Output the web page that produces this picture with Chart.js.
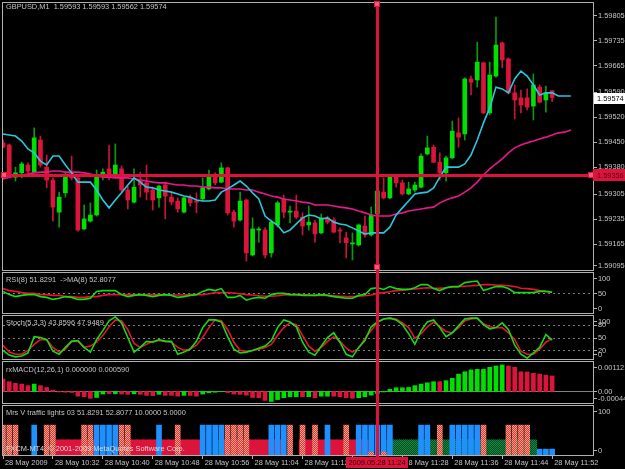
<!DOCTYPE html>
<html>
<head>
<meta charset="utf-8">
<title>GBPUSD,M1</title>
<script src="https://cdn.jsdelivr.net/npm/chart.js@4.4.1/dist/chart.umd.min.js"></script>
<style>
  html, body { margin: 0; padding: 0; background: #000; }
  body { position: relative; width: 625px; height: 469px; overflow: hidden; }
  canvas { position: absolute; left: 0; display: block; }
</style>
</head>
<body>
<canvas id="mainChart" width="625" height="272" style="top:0px;width:625px;height:272px"></canvas>
<canvas id="rsiChart" width="625" height="43" style="top:272px;width:625px;height:43px"></canvas>
<canvas id="stochChart" width="625" height="46" style="top:315px;width:625px;height:46px"></canvas>
<canvas id="macdChart" width="625" height="44" style="top:361px;width:625px;height:44px"></canvas>
<canvas id="tlChart" width="625" height="64" style="top:405px;width:625px;height:64px"></canvas>
<script>
// GBPUSD M1, 28 May 2009 - bar 0 is 10:24, bar 88 is 11:52
const openPrices = [1.59447,1.59441,1.59351,1.59363,1.59385,1.59365,1.59455,1.59379,1.59343,1.59253,
    1.59307,1.59363,1.59349,1.59206,1.59228,1.59245,1.59354,1.59374,1.59351,1.59374,
    1.59315,1.59281,1.59343,1.59335,1.59315,1.59293,1.59329,1.59295,1.59284,1.59253,
    1.59295,1.59284,1.59290,1.59318,1.59357,1.59337,1.59377,1.59253,1.59231,1.59287,
    1.59133,1.59203,1.59203,1.59139,1.59217,1.59290,1.59253,1.59256,1.59239,1.59217,
    1.59223,1.59195,1.59237,1.59231,1.59203,1.59181,1.59164,1.59161,1.59214,1.59189,
    1.59248,1.59309,1.59293,1.59354,1.59335,1.59304,1.59315,1.59323,1.59416,1.59435,
    1.59393,1.59363,1.59405,1.59475,1.59472,1.59626,1.59623,1.59671,1.59531,1.59634,
    1.59727,1.59682,1.59587,1.59573,1.59573,1.59550,1.59603,1.59567,1.59593];
const highPrices = [1.59455,1.59444,1.59379,1.59393,1.59391,1.59489,1.59466,1.59413,1.59349,1.59309,
    1.59363,1.59410,1.59354,1.59273,1.59279,1.59371,1.59374,1.59441,1.59444,1.59382,
    1.59326,1.59374,1.59365,1.59385,1.59323,1.59329,1.59337,1.59307,1.59293,1.59295,
    1.59301,1.59307,1.59349,1.59371,1.59363,1.59391,1.59379,1.59259,1.59309,1.59290,
    1.59237,1.59211,1.59209,1.59231,1.59284,1.59301,1.59270,1.59301,1.59251,1.59270,
    1.59231,1.59248,1.59242,1.59237,1.59209,1.59197,1.59195,1.59220,1.59242,1.59267,
    1.59335,1.59349,1.59357,1.59357,1.59343,1.59337,1.59337,1.59416,1.59466,1.59441,
    1.59419,1.59410,1.59508,1.59517,1.59629,1.59634,1.59729,1.59673,1.59673,1.59799,
    1.59729,1.59685,1.59609,1.59595,1.59598,1.59640,1.59609,1.59606,1.59593];
const lowPrices = [1.59433,1.59349,1.59340,1.59349,1.59363,1.59365,1.59379,1.59321,1.59228,1.59211,
    1.59295,1.59343,1.59200,1.59203,1.59225,1.59242,1.59343,1.59343,1.59351,1.59309,
    1.59262,1.59279,1.59295,1.59287,1.59259,1.59267,1.59234,1.59273,1.59253,1.59251,
    1.59270,1.59251,1.59284,1.59315,1.59329,1.59335,1.59245,1.59211,1.59228,1.59116,
    1.59130,1.59169,1.59125,1.59127,1.59211,1.59237,1.59223,1.59234,1.59189,1.59203,
    1.59169,1.59192,1.59220,1.59195,1.59167,1.59125,1.59119,1.59158,1.59183,1.59186,
    1.59245,1.59290,1.59290,1.59323,1.59301,1.59301,1.59309,1.59321,1.59413,1.59391,
    1.59343,1.59340,1.59402,1.59435,1.59455,1.59581,1.59603,1.59528,1.59525,1.59631,
    1.59657,1.59584,1.59514,1.59531,1.59539,1.59511,1.59559,1.59533,1.59562];
const closePrices = [1.59435,1.59351,1.59363,1.59388,1.59368,1.59461,1.59385,1.59343,1.59267,1.59295,
    1.59357,1.59349,1.59203,1.59234,1.59245,1.59351,1.59365,1.59351,1.59385,1.59315,
    1.59287,1.59323,1.59329,1.59309,1.59287,1.59326,1.59298,1.59281,1.59262,1.59293,
    1.59279,1.59281,1.59321,1.59357,1.59335,1.59377,1.59251,1.59228,1.59284,1.59139,
    1.59206,1.59206,1.59133,1.59225,1.59279,1.59253,1.59256,1.59239,1.59214,1.59225,
    1.59192,1.59237,1.59225,1.59197,1.59200,1.59167,1.59167,1.59217,1.59189,1.59245,
    1.59312,1.59293,1.59354,1.59335,1.59304,1.59318,1.59329,1.59410,1.59433,1.59393,
    1.59363,1.59405,1.59480,1.59463,1.59626,1.59617,1.59673,1.59531,1.59637,1.59721,
    1.59679,1.59587,1.59567,1.59553,1.59547,1.59609,1.59561,1.59587,1.59574];

// moving averages, both drawn 3 bars to the right of the last candle
const maFast = [1.59472,1.59469,1.59466,1.59452,1.59430,1.59419,1.59396,1.59385,1.59410,1.59410,
    1.59385,1.59363,1.59337,1.59337,1.59337,1.59315,1.59287,1.59265,1.59287,1.59307,
    1.59329,1.59349,1.59337,1.59323,1.59321,1.59315,1.59312,1.59309,1.59304,1.59298,
    1.59295,1.59287,1.59284,1.59284,1.59287,1.59309,1.59318,1.59329,1.59340,1.59326,
    1.59307,1.59290,1.59242,1.59228,1.59217,1.59195,1.59203,1.59220,1.59237,1.59245,
    1.59242,1.59234,1.59237,1.59225,1.59220,1.59217,1.59209,1.59200,1.59192,1.59195,
    1.59195,1.59195,1.59211,1.59245,1.59265,1.59284,1.59304,1.59307,1.59309,1.59321,
    1.59351,1.59379,1.59379,1.59379,1.59388,1.59413,1.59455,1.59503,1.59545,1.59603,
    1.59598,1.59587,1.59626,1.59648,1.59634,1.59609,1.59581,1.59587,1.59587,1.59578,
    1.59578,1.59578];
const maSlow = [1.59346,1.59351,1.59354,1.59357,1.59360,1.59363,1.59365,1.59365,1.59368,1.59368,
    1.59365,1.59365,1.59365,1.59363,1.59360,1.59354,1.59351,1.59351,1.59349,1.59349,
    1.59349,1.59346,1.59343,1.59340,1.59337,1.59335,1.59335,1.59332,1.59329,1.59329,
    1.59326,1.59326,1.59323,1.59323,1.59321,1.59321,1.59318,1.59318,1.59318,1.59315,
    1.59315,1.59309,1.59304,1.59298,1.59295,1.59290,1.59287,1.59284,1.59281,1.59279,
    1.59273,1.59273,1.59273,1.59270,1.59267,1.59265,1.59262,1.59256,1.59251,1.59245,
    1.59242,1.59242,1.59242,1.59248,1.59251,1.59256,1.59259,1.59262,1.59265,1.59267,
    1.59279,1.59287,1.59293,1.59298,1.59309,1.59321,1.59337,1.59357,1.59374,1.59388,
    1.59402,1.59419,1.59433,1.59441,1.59447,1.59452,1.59458,1.59463,1.59469,1.59475,
    1.59477,1.59483];

const rsiValues = [54,46,41,44,46,46,41,39,34,37, 41,39,34,34,37,54,56,56,56,46,
    41,44,46,44,41,44,46,44,39,41, 44,46,54,59,56,61,39,39,44,32,
    37,39,37,46,49,49,46,46,44,44, 44,46,44,41,39,37,37,44,46,61,
    63,59,66,61,59,59,63,71,71,61, 56,63,66,66,76,78,80,56,61,66,
    66,61,51,51,51,51,54,54,51.8291];
const rsiMa = [61,56,54,51,49,49,46,46,44,44, 41,41,39,39,41,41,44,46,46,46,
    46,46,46,46,46,46,46,45,45,45, 46,46,46,48,51,51,51,50,48,46,
    45,43,42,42,43,45,46,46,46,45, 44,44,44,43,42,41,41,42,43,45,
    49,51,53,56,57,59,60,62,63,62, 62,63,65,66,67,68,69,71,71,70,
    69,68,66,62,61,59,56,54,52.8077];

const stochMain = [20,9,5,7,14,52,50,45,18,11, 27,41,43,27,16,45,66,89,98,84,
    50,16,27,41,39,45,41,41,11,16, 23,41,73,91,91,86,52,23,14,16,
    20,25,30,43,73,91,86,75,39,16, 9,30,50,61,39,11,5,27,43,75,
    86,93,95,91,80,59,34,66,86,91, 73,52,61,77,93,95,95,80,70,73,
    84,68,32,11,2,14,27,57,43.8596];
const stochSignal = [32,16,11,11,20,34,45,45,27,16, 23,41,41,27,30,39,55,75,91,89,
    68,36,27,34,41,43,41,39,27,20, 23,32,50,73,91,89,68,39,20,18,
    20,23,27,34,55,73,84,80,55,30, 18,27,41,52,41,25,16,25,48,66,
    86,93,95,93,84,73,48,59,75,86, 75,64,61,73,89,93,95,82,75,73,
    73,61,45,18,11,11,23,39,47.9489];

const macdHist = [0.00047,0.00037,0.00031,0.00028,0.00022,0.00028,0.00022,0.00015,0.00005,-0.00002,
    -0.00003,-0.00004,-0.00018,-0.00020,-0.00026,-0.00023,-0.00010,-0.00008,-0.00009,-0.00010,
    -0.00011,-0.00009,-0.00011,-0.00015,-0.00016,-0.00011,-0.00015,-0.00015,-0.00018,-0.00015,
    -0.00015,-0.00018,-0.00010,-0.00005,-0.00003,-0.00001,-0.00004,-0.00010,-0.00011,-0.00014,
    -0.00023,-0.00024,-0.00034,-0.00038,-0.00031,-0.00024,-0.00020,-0.00020,-0.00020,-0.00020,
    -0.00024,-0.00018,-0.00018,-0.00018,-0.00020,-0.00024,-0.00026,-0.00024,-0.00020,-0.00014,
    -0.00008,-0.00002,0.00008,0.00014,0.00014,0.00015,0.00022,0.00028,0.00033,0.00037,
    0.00037,0.00041,0.00050,0.00066,0.00075,0.00082,0.00084,0.00084,0.00092,0.00097,
    0.00101,0.00097,0.00092,0.00075,0.00074,0.00069,0.00066,0.00062,0.00059];
const macdUp = [0,0,0,0,0,1,0,0,0,0, 0,0,0,0,0,1,1,0,1,0, 0,1,0,0,0,1,0,0,0,1,
    0,0,1,1,1,1,0,0,0,0, 0,0,0,1,1,1,1,1,0,1, 0,1,1,0,0,0,0,1,1,1,
    1,1,1,1,1,1,1,1,1,1, 0,1,1,1,1,1,1,1,1,1, 1,0,0,0,0,0,0,0,0];

// traffic lights: one character per bar (S salmon, B blue, R crimson, G green, s/b small)
const tlUpper = ('SSS..B.SS.' + '...SSBBBBS' + 'S....B..S.' + '..BBBBSSSS' + '...BBBS.S.' +
    'S.B..S.BBB' + 'BBB....BB.' + 'S.BBBBBS..' + '.SSSS....').split('');
const tlLower = ('G........R' + 'RRRRR.....' + 'RRRRRRRRRR' + 'RR...GRRRR' + 'RRRRR...RR' +
    'RRRRRRRRR.' + '..GGGGGGGG' + 'GGGGGGGGGG' + 'GGGGGG...').split('');
const tlSmall = ('..........' + '..........' + '..........' + '..........' + '..........' +
    '.........s' + '.s........' + '..........' + '......bbb').split('');
const tlValue = { S: 61, B: 61, R: 31, G: 31, b: 12, s: 6 };

const priceTicks = [1.59805, 1.59735, 1.59665, 1.59590, 1.59520, 1.59450, 1.59380, 1.59305, 1.59235, 1.59165, 1.59095];
const rsiTicks = [100, 50, 0];
const stochTicks = [100, 80, 50, 20, 0];
const macdTicks = [0.001121, 0, -0.00044];
const macdTickText = ['0.001121', '0.00', '-0.00044'];
const tlTicks = [100, 0];
const timeTickBars = [0, 8, 16, 24, 32, 40, 48, 56, 64, 72, 80, 88];
const timeLabels = ['28 May 2009', '28 May 10:32', '28 May 10:40', '28 May 10:48', '28 May 10:56', '28 May 11:04',
    '28 May 11:12', '28 May 11:20', '28 May 11:28', '28 May 11:36', '28 May 11:44', '28 May 11:52'];

const crossBar = 60;
const crossPrice = 1.59356;
const crossTime = '2009.05.28 11:24';
const lastPrice = 1.59574;

const FAMILY = '"Liberation Sans", Arial, sans-serif';
const FONT = '7.4px ' + FAMILY;
const TEXT = '#c4c4c4';
const FRAME = '#b0b0b0';
const CROSS = '#dc143c';
const X_MAX = 94.55;

const bars = openPrices.map((_, i) => i);
const maBars = maFast.map((_, i) => i);

function dither(canvasId, a, b) {
    const p = document.createElement('canvas');
    p.width = 2; p.height = 2;
    const g = p.getContext('2d');
    g.fillStyle = a; g.fillRect(0, 0, 2, 2);
    g.fillStyle = b; g.fillRect(0, 0, 1, 1); g.fillRect(1, 1, 1, 1);
    return document.getElementById(canvasId).getContext('2d').createPattern(p, 'repeat');
}

function hiddenX() {
    return { type: 'linear', min: 0, max: X_MAX, offset: false, display: false };
}

function panelPlugin(p) {
    return {
        id: 'mtPanel',
        beforeDraw(chart) {
            const ctx = chart.ctx;
            ctx.save();
            ctx.fillStyle = '#000';
            ctx.fillRect(0, 0, chart.width, chart.height);
            ctx.restore();
        },
        beforeDatasetsDraw(chart) {
            const { ctx, chartArea: a } = chart;
            const y = chart.scales.y;
            ctx.save();
            ctx.lineWidth = 1;
            (p.levels || []).forEach(v => {
                const py = Math.round(y.getPixelForValue(v)) + 0.5;
                ctx.strokeStyle = '#7c7c7c';
                ctx.setLineDash([2, 3]);
                ctx.beginPath(); ctx.moveTo(a.left, py); ctx.lineTo(a.right, py); ctx.stroke();
            });
            if (p.zeroLine) {
                const py = Math.round(y.getPixelForValue(0)) + 0.5;
                ctx.setLineDash([]);
                ctx.strokeStyle = '#808080';
                ctx.beginPath(); ctx.moveTo(a.left, py); ctx.lineTo(a.right, py); ctx.stroke();
            }
            ctx.restore();
        },
        afterDatasetsDraw(chart) {
            const { ctx, chartArea: a } = chart;
            const x = chart.scales.x, y = chart.scales.y;
            ctx.save();
            ctx.setLineDash([]);
            ctx.lineWidth = 1;
            ctx.strokeStyle = FRAME;
            ctx.strokeRect(a.left - 0.5, a.top - 0.5, a.right - a.left + 1, a.bottom - a.top + 1);

            // right-hand scale, MT4 keeps edge labels inside the window
            ctx.font = FONT;
            ctx.textAlign = 'left';
            ctx.textBaseline = 'middle';
            p.ticks.forEach((v, k) => {
                const py = Math.min(Math.max(y.getPixelForValue(v), a.top + 5), a.bottom - 5);
                ctx.fillStyle = FRAME;
                ctx.fillRect(a.right + 1, Math.round(py), 3, 1);
                ctx.fillStyle = TEXT;
                ctx.fillText(p.tickText ? p.tickText[k] : v.toFixed(p.digits), a.right + 5, py + 0.5);
            });

            ctx.fillStyle = TEXT;
            ctx.fillText(p.title, 6, a.top + p.titleDy);

            if (p.extra) p.extra(chart, ctx, a, x, y);

            // vertical crosshair
            const cx = Math.round(x.getPixelForValue(crossBar));
            const top = p.crossTop || 0;
            const bottom = p.crossBottom ? p.crossBottom(a) : chart.height;
            ctx.fillStyle = CROSS;
            ctx.fillRect(cx - 1, top, 3, bottom - top);
            if (p.afterCross) p.afterCross(chart, ctx, a, x, y, cx);
            ctx.restore();
        }
    };
}

function marker(ctx, x, y) {
    ctx.fillStyle = '#f25c7c';
    ctx.fillRect(x - 2, y - 2, 5, 5);
    ctx.strokeStyle = CROSS;
    ctx.strokeRect(x - 2.5, y - 2.5, 5, 5);
}

function baseOptions(padding, scales) {
    return {
        responsive: false,
        animation: false,
        devicePixelRatio: 1,
        events: [],
        layout: { padding },
        plugins: { legend: { display: false }, tooltip: { enabled: false } },
        scales
    };
}

// ---- price window ----
new Chart(document.getElementById('mainChart'), {
    type: 'bar',
    data: {
        datasets: [
            {
                type: 'line',
                data: maBars.map(i => ({ x: i, y: maFast[i] })),
                borderColor: '#2cc6dc',
                borderWidth: 1.6,
                pointRadius: 0,
                order: 0
            },
            {
                type: 'line',
                data: maBars.map(i => ({ x: i, y: maSlow[i] })),
                borderColor: '#e8188c',
                borderWidth: 1.6,
                pointRadius: 0,
                order: 0
            },
            {
                data: bars.map(i => ({ x: i, y: [openPrices[i], closePrices[i]] })),
                backgroundColor: c => closePrices[c.dataIndex] >= openPrices[c.dataIndex] ? '#00e000' : '#dc143c',
                barThickness: 4,
                minBarLength: 1,
                grouped: false,
                borderWidth: 0,
                order: 1
            },
            {
                data: bars.map(i => ({ x: i, y: [lowPrices[i], highPrices[i]] })),
                backgroundColor: c => closePrices[c.dataIndex] >= openPrices[c.dataIndex] ? '#0c9a0c' : '#c8143a',
                barThickness: 1,
                grouped: false,
                borderWidth: 0,
                order: 2
            }
        ]
    },
    options: baseOptions({ left: 3, right: 32, top: 3, bottom: 2 }, {
        x: hiddenX(),
        y: { display: false, min: 1.59091, max: 1.598386 }
    }),
    plugins: [panelPlugin({
        ticks: priceTicks,
        digits: 5,
        title: 'GBPUSD,M1  1.59593 1.59593 1.59562 1.59574',
        titleDy: 4,
        crossTop: 2,
        extra(chart, ctx, a, x, y) {
            // current bid
            const py = Math.round(y.getPixelForValue(lastPrice));
            ctx.fillStyle = '#ffffff';
            ctx.fillRect(a.right + 1, py - 5, 32, 11);
            ctx.fillStyle = '#000000';
            ctx.fillText(lastPrice.toFixed(5), a.right + 4, py + 0.5);
        },
        afterCross(chart, ctx, a, x, y, cx) {
            const py = Math.round(y.getPixelForValue(crossPrice));
            ctx.fillStyle = CROSS;
            ctx.fillRect(a.left - 1, py - 1, a.right - a.left + 2, 3);
            ctx.fillRect(a.right, py - 6, 32, 12);
            ctx.fillStyle = '#5a0010';
            ctx.fillText(crossPrice.toFixed(5), a.right + 4, py + 0.5);
            marker(ctx, cx, 4);
            marker(ctx, cx, a.bottom - 3);
            marker(ctx, a.left + 1, py);
            marker(ctx, a.right - 2, py);
        }
    })]
});

// ---- RSI ----
new Chart(document.getElementById('rsiChart'), {
    type: 'line',
    data: {
        datasets: [
            { data: bars.map(i => ({ x: i, y: rsiValues[i] })), borderColor: '#14dc14', borderWidth: 1.6, pointRadius: 0 },
            { data: bars.map(i => ({ x: i, y: rsiMa[i] })), borderColor: '#e8142e', borderWidth: 1.6, pointRadius: 0 }
        ]
    },
    options: baseOptions({ left: 3, right: 32, top: 1, bottom: 2 }, {
        x: hiddenX(),
        y: { display: false, min: 0, max: 100 }
    }),
    plugins: [panelPlugin({
        ticks: rsiTicks, digits: 0, levels: [50],
        title: 'RSI(8) 51.8291  ->MA(8) 52.8077', titleDy: 7
    })]
});

// ---- Stochastic ----
new Chart(document.getElementById('stochChart'), {
    type: 'line',
    data: {
        datasets: [
            { data: bars.map(i => ({ x: i, y: stochMain[i] })), borderColor: '#14dc14', borderWidth: 1.6, pointRadius: 0 },
            { data: bars.map(i => ({ x: i, y: stochSignal[i] })), borderColor: '#e8142e', borderWidth: 1.6, pointRadius: 0 }
        ]
    },
    options: baseOptions({ left: 3, right: 32, top: 1, bottom: 2 }, {
        x: hiddenX(),
        y: { display: false, min: 0, max: 100 }
    }),
    plugins: [panelPlugin({
        ticks: stochTicks, digits: 0, levels: [80, 50, 20],
        title: 'Stoch(5,3,3) 43.8596 47.9489', titleDy: 7
    })]
});

// ---- MACD histogram ----
new Chart(document.getElementById('macdChart'), {
    type: 'bar',
    data: {
        datasets: [{
            data: bars.map(i => ({ x: i, y: macdHist[i] })),
            backgroundColor: c => macdUp[c.dataIndex] ? '#00e000' : '#dc143c',
            barThickness: 4,
            grouped: false,
            borderWidth: 0
        }]
    },
    options: baseOptions({ left: 3, right: 32, top: 1, bottom: 2 }, {
        x: hiddenX(),
        y: { display: false, min: -0.00044, max: 0.001121 }
    }),
    plugins: [panelPlugin({
        ticks: macdTicks, tickText: macdTickText, zeroLine: true,
        title: 'rxMACD(12,26,1) 0.000000 0.000590', titleDy: 8
    })]
});

// ---- traffic lights ----
const salmon = dither('tlChart', '#f4a07c', '#d83a44');
const darkGreen = dither('tlChart', '#0b8a44', '#034a1c');
const tlColor = { S: salmon, B: '#1e90ff', R: '#dc143c', G: darkGreen, b: '#1e90ff', s: salmon };

function tlData(codes) {
    return bars.filter(i => codes[i] !== '.').map(i => ({ x: i, y: tlValue[codes[i]], k: codes[i] }));
}

new Chart(document.getElementById('tlChart'), {
    type: 'bar',
    data: {
        datasets: [
            { data: tlData(tlLower), backgroundColor: c => c.raw ? tlColor[c.raw.k] : '#dc143c', barThickness: 6.6, grouped: false, borderWidth: 0, order: 3 },
            { data: tlData(tlUpper), backgroundColor: c => c.raw ? tlColor[c.raw.k] : '#1e90ff', barThickness: 5, grouped: false, borderWidth: 0, order: 2 },
            { data: tlData(tlSmall), backgroundColor: c => c.raw ? tlColor[c.raw.k] : '#1e90ff', barThickness: 5, grouped: false, borderWidth: 0, order: 1 }
        ]
    },
    options: baseOptions({ left: 3, right: 32, top: 1, bottom: 0 }, {
        x: {
            type: 'linear', min: 0, max: X_MAX, offset: false,
            afterBuildTicks: s => { s.ticks = timeTickBars.map(v => ({ value: v })); },
            afterFit: s => { s.height = 14; },
            grid: { drawOnChartArea: false, drawTicks: true, tickLength: 4, color: FRAME, offset: false },
            border: { display: false },
            ticks: {
                callback: (v, i) => timeLabels[i],
                align: 'start', labelOffset: 2, padding: 0,
                maxRotation: 0, autoSkip: false,
                color: TEXT, font: { family: FAMILY, size: 7.4 }
            }
        },
        y: { display: false, min: 0, max: 100 }
    }),
    plugins: [panelPlugin({
        ticks: tlTicks, digits: 0,
        title: 'Mrs V traffic lights 03 51.8291 52.8077 10.0000 5.0000', titleDy: 7,
        crossBottom: a => a.bottom + 2,
        extra(chart, ctx, a) {
            ctx.fillStyle = '#d8d8d8';
            ctx.fillText('FXCM-MT4, \u00a9 2001-2009 MetaQuotes Software Corp.', 6, a.bottom - 6);
        },
        afterCross(chart, ctx, a, x, y, cx) {
            ctx.fillStyle = CROSS;
            ctx.fillRect(cx - 31, a.bottom + 2, 62, 11);
            ctx.fillStyle = '#2a0008';
            ctx.textAlign = 'center';
            ctx.fillText(crossTime, cx, a.bottom + 8);
        }
    })]
});
</script>
</body>
</html>
